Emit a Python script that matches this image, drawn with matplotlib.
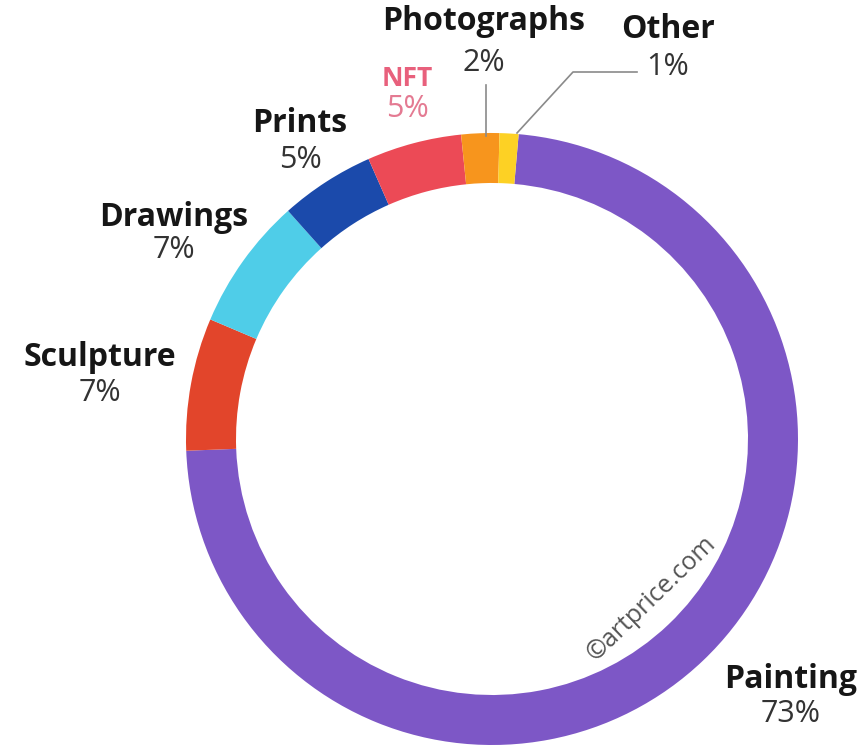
import matplotlib
matplotlib.use('Agg')
import matplotlib.pyplot as plt

# data, clockwise from the top
labels = ['Painting', 'Sculpture', 'Drawings', 'Prints', 'NFT', 'Photographs', 'Other']
shares = [73, 7, 7, 5, 5, 2, 1]
colors = ['#7d57c6', '#e2452b', '#4fcde8', '#1b4aab', '#ec4a56', '#f7951d', '#fdd124']

W, H = 864, 747
plt.rcParams['font.family'] = ['Open Sans', 'DejaVu Sans']

fig = plt.figure(figsize=(W / 100, H / 100), dpi=100)
ax = fig.add_axes([0, 0, 1, 1])

cx, cy, r = 492, H - 439, 306
ax.pie(shares, colors=colors, radius=r, center=(cx, cy), startangle=85,
       counterclock=False, wedgeprops=dict(width=50, linewidth=0))
ax.set_xlim(0, W)
ax.set_ylim(0, H)
ax.set_aspect('equal')
ax.axis('off')

# label positions in picture pixels (x, y of name, y of percent)
pos = {
    'Painting': (791, 679, 714),
    'Sculpture': (100, 358, 393),
    'Drawings': (174, 217, 250),
    'Prints': (300, 123, 160),
    'NFT': (407, 79, 109),
    'Photographs': (484, 22, 63),
    'Other': (668, 30, 67),
}

for name, val in zip(labels, shares):
    x, yn, yp = pos[name]
    if name == 'NFT':
        ax.text(x, H - yn, name, ha='center', va='center', fontsize=19,
                fontweight='bold', color='#e8607c')
        ax.text(x, H - yp, f'{val}%', ha='center', va='center', fontsize=22,
                color='#e47a92')
    else:
        ax.text(x, H - yn, name, ha='center', va='center', fontsize=23,
                fontweight='bold', color='#161616')
        ax.text(x, H - yp, f'{val}%', ha='center', va='center', fontsize=22,
                color='#333333')

# leader lines
ax.plot([486, 486], [H - 85, H - 136], color='#8a8a8a', lw=1.2)
ax.plot([637, 573, 517], [H - 72, H - 72, H - 133], color='#8a8a8a', lw=1.2)

ax.text(652, H - 598, '©artprice.com', rotation=44, ha='center', va='center',
        fontsize=18, color='#555555', rotation_mode='anchor')

fig.savefig('out.png', dpi=100, facecolor='white')
